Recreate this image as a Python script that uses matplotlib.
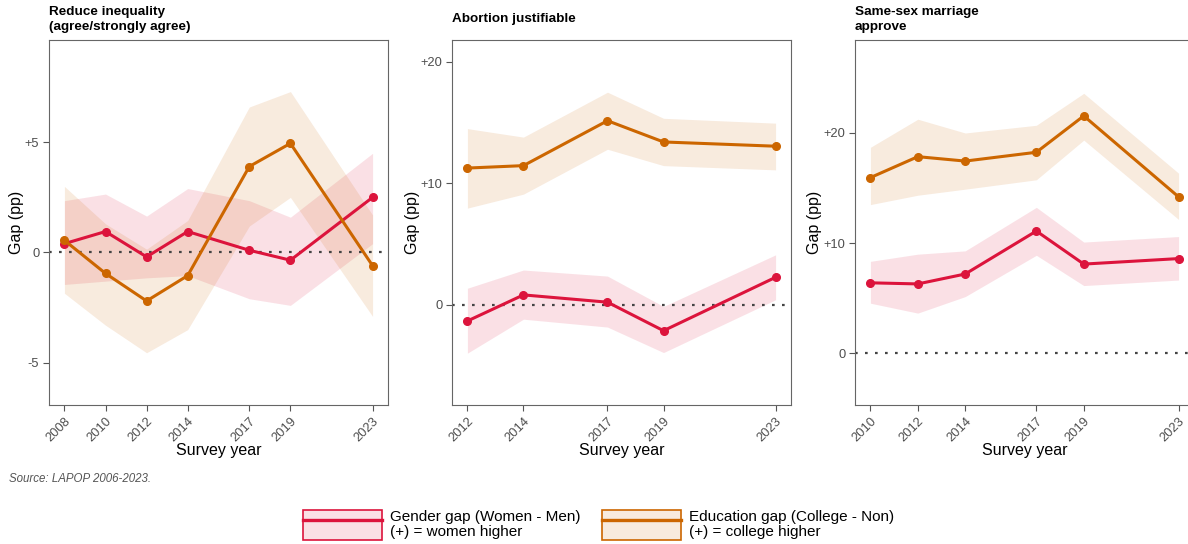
import numpy as np
import matplotlib
matplotlib.use("Agg")
import matplotlib.pyplot as plt
from matplotlib.patches import Patch
from matplotlib.lines import Line2D
from matplotlib.colors import to_rgba

plt.rcParams['font.family'] = ['Liberation Sans', 'DejaVu Sans']

# --- data (gap in percentage points) ---
years_ineq = [2008, 2010, 2012, 2014, 2017, 2019, 2023]
gender_ineq = [0.4, 0.95, -0.2, 0.95, 0.1, -0.35, 2.5]
gender_ineq_lo = [-1.45, -1.3, -1.15, -1.05, -2.1, -2.4, 0.4]
gender_ineq_hi = [2.35, 2.65, 1.65, 2.9, 2.35, 1.6, 4.5]
edu_ineq = [0.55, -0.95, -2.2, -1.05, 3.9, 4.95, -0.6]
edu_ineq_lo = [-1.85, -3.3, -4.55, -3.5, 1.2, 2.5, -2.9]
edu_ineq_hi = [3.0, 1.3, 0.15, 1.45, 6.6, 7.3, 1.7]

years_abort = [2012, 2014, 2017, 2019, 2023]
gender_abort = [-1.35, 0.8, 0.2, -2.15, 2.25]
gender_abort_lo = [-4.0, -1.2, -1.85, -3.95, 0.4]
gender_abort_hi = [1.35, 2.85, 2.35, -0.15, 4.1]
edu_abort = [11.25, 11.45, 15.15, 13.4, 13.05]
edu_abort_lo = [7.95, 9.1, 12.8, 11.45, 11.1]
edu_abort_hi = [14.5, 13.8, 17.5, 15.35, 14.95]

years_ssm = [2010, 2012, 2014, 2017, 2019, 2023]
gender_ssm = [6.4, 6.3, 7.2, 11.1, 8.1, 8.6]
gender_ssm_lo = [4.55, 3.65, 5.15, 8.9, 6.15, 6.65]
gender_ssm_hi = [8.35, 9.0, 9.3, 13.25, 10.1, 10.6]
edu_ssm = [15.95, 17.85, 17.45, 18.25, 21.55, 14.2]
edu_ssm_lo = [13.5, 14.35, 14.9, 15.75, 19.35, 12.15]
edu_ssm_hi = [18.7, 21.25, 20.0, 20.7, 23.6, 16.35]

titles = ["Reduce inequality\n(agree/strongly agree)", "Abortion justifiable",
          "Same-sex marriage\napprove"]
yticks = [[-5, 0, 5], [0, 10, 20], [0, 10, 20]]
ytick_labels = [["-5", "0", "+5"], ["0", "+10", "+20"], ["0", "+10", "+20"]]
ylims = [(-6.92, 9.64), (-8.27, 21.8), (-4.69, 28.44)]

red = "#DC143C"
orange = "#CC6600"
alpha_rib = 0.13

W, H = 1188, 544
fig = plt.figure(figsize=(W / 100, H / 100), dpi=100)

panels = [
    (years_ineq, gender_ineq, gender_ineq_lo, gender_ineq_hi, edu_ineq, edu_ineq_lo, edu_ineq_hi),
    (years_abort, gender_abort, gender_abort_lo, gender_abort_hi, edu_abort, edu_abort_lo, edu_abort_hi),
    (years_ssm, gender_ssm, gender_ssm_lo, gender_ssm_hi, edu_ssm, edu_ssm_lo, edu_ssm_hi),
]
lefts = [49, 452, 855]
ylab_x = [16, 412, 814]
title_top = [6, 13, 6]
top, bottom, width = 40, 405, 339

for i, (yrs, g, glo, ghi, e, elo, ehi) in enumerate(panels):
    ax = fig.add_axes([lefts[i] / W, 1 - bottom / H, width / W, (bottom - top) / H])
    ax.fill_between(yrs, glo, ghi, color=red, alpha=alpha_rib, lw=0, zorder=1)
    ax.fill_between(yrs, elo, ehi, color=orange, alpha=alpha_rib, lw=0, zorder=1)
    ax.axhline(0, color="#444444", lw=1.6, ls=(0, (1.2, 3.3)), zorder=2)
    ax.plot(yrs, g, color=red, lw=2.2, marker="o", ms=5.5, zorder=3)
    ax.plot(yrs, e, color=orange, lw=2.2, marker="o", ms=5.5, zorder=3)

    span = yrs[-1] - yrs[0]
    ax.set_xlim(yrs[0] - 0.05 * span, yrs[-1] + 0.05 * span)
    ax.set_ylim(*ylims[i])
    ax.set_xticks(yrs)
    ax.set_xticklabels([str(y) for y in yrs], rotation=45, ha="right", va="top",
                       rotation_mode="anchor")
    ax.set_yticks(yticks[i])
    ax.set_yticklabels(ytick_labels[i])
    ax.tick_params(labelsize=9.3, labelcolor="#4d4d4d", color="#555555", length=4,
                   width=0.8, pad=3)
    for s in ax.spines.values():
        s.set_color("#666666")
        s.set_linewidth(0.8)

    ax.set_xlabel("Survey year", fontsize=11.5)
    ax.xaxis.label.set_va("center")
    ax.xaxis.set_label_coords(0.5, (bottom - 450.5) / (bottom - top))
    ax.set_ylabel("Gap (pp)", fontsize=11.5)
    ax.yaxis.label.set_va("center")
    ax.yaxis.set_label_coords((ylab_x[i] - lefts[i]) / width, 0.5)

    fig.text(lefts[i] / W, 1 - title_top[i] / H, titles[i], fontsize=9.7,
             fontweight="bold", ha="left", va="top", linespacing=1.3)

fig.text(9 / W, 1 - 479 / H, "Source: LAPOP 2006-2023.", fontsize=8.3,
         style="italic", color="#555555", ha="left", va="center")

h_gender = (Patch(facecolor=to_rgba(red, alpha_rib), edgecolor=red, lw=1.2),
            Line2D([], [], color=red, lw=2.4))
h_edu = (Patch(facecolor=to_rgba(orange, alpha_rib), edgecolor=orange, lw=1.2),
         Line2D([], [], color=orange, lw=2.4))
leg = fig.legend([h_gender, h_edu],
                 ["Gender gap (Women - Men)\n(+) = women higher",
                  "Education gap (College - Non)\n(+) = college higher"],
                 loc="center", bbox_to_anchor=(598.5 / W, 1 - 525 / H), ncol=2,
                 frameon=False, fontsize=11, handlelength=5.2, handleheight=2.64,
                 handletextpad=0.52, columnspacing=1.37, borderpad=0)
for t in leg.get_texts():
    t.set_linespacing(1.15)

fig.savefig("out.png", dpi=100)
